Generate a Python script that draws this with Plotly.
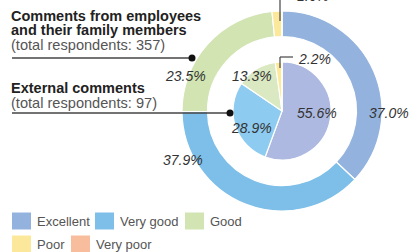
import plotly.graph_objects as go

categories = ["Excellent", "Very good", "Good", "Poor", "Very poor"]
employee_values = [37.0, 37.9, 23.5, 1.6, 0.0]   # outer ring (357 respondents)
external_values = [55.6, 28.9, 13.3, 2.2, 0.0]   # inner pie (97 respondents)
outer_colors = ["#93b3de", "#7dbfe9", "#d1e4b1", "#fce89a", "#f8bd9c"]
inner_colors = ["#adb9e0", "#8dcbf0", "#dbe9c3", "#fde99a", "#f8bd9c"]

W, H = 409, 252
def px(x): return x / W
def py(y): return 1 - y / H

fig = go.Figure()
fig.add_trace(go.Pie(
    labels=categories, values=employee_values, hole=0.745, sort=False,
    direction="clockwise", rotation=0, textinfo="none", hoverinfo="label+percent",
    marker=dict(colors=outer_colors, line=dict(color="white", width=1.2)),
    domain=dict(x=[px(182), px(382)], y=[py(211), py(11)]), showlegend=False))
fig.add_trace(go.Pie(
    labels=categories, values=external_values, sort=False,
    direction="clockwise", rotation=0, textinfo="none", hoverinfo="label+percent",
    marker=dict(colors=inner_colors, line=dict(color="white", width=1.2)),
    domain=dict(x=[px(233), px(331)], y=[py(160), py(62)]), showlegend=False))

lab_font = dict(family="Liberation Sans, Arial", size=14, color="#333")
ann = []
def lab(text, x, y):
    ann.append(dict(text="<i>" + text + "</i>", x=px(x), y=py(y), xref="paper", yref="paper",
                    showarrow=False, font=lab_font, xanchor="center", yanchor="middle"))

outer_pos = [(389, 113), (183, 160), (185, 76), (313, -4)]
inner_pos = [(317, 113), (251, 128), (252, 76), (314, 59)]
for v, p in zip(employee_values[:4], outer_pos):
    lab(f"{v:.1f}%", *p)
for v, p in zip(external_values[:4], inner_pos):
    lab(f"{v:.1f}%", *p)

title_font = dict(family="Liberation Sans, Arial", size=14.5, color="#222")
sub_font = dict(family="Liberation Sans, Arial", size=14.6, color="#555")
def txt(text, x, y, font):
    ann.append(dict(text=text, x=px(x), y=py(y), xref="paper", yref="paper", showarrow=False,
                    font=font, xanchor="left", yanchor="middle", borderpad=0))
txt("<b>Comments from employees</b>", 10, 16, title_font)
txt("<b>and their family members</b>", 10, 30, title_font)
txt("(total respondents: 357)", 10, 45, sub_font)
txt("<b>External comments</b>", 10, 88, title_font)
txt("(total respondents: 97)", 10, 103, sub_font)

shapes = []
line_c = "#444"
def seg(x0, y0, x1, y1, w=1.5):
    shapes.append(dict(type="line", xref="paper", yref="paper", x0=px(x0), y0=py(y0),
                       x1=px(x1), y1=py(y1), line=dict(color=line_c, width=w)))
def dot(x, y, r=3.5):
    shapes.append(dict(type="circle", xref="paper", yref="paper", x0=px(x - r), y0=py(y + r),
                       x1=px(x + r), y1=py(y - r), fillcolor="#111", line=dict(width=0)))
seg(12, 58, 192, 58); dot(192, 58)
seg(12, 113, 230, 113); dot(230, 113)
seg(280, 68, 280, 57, 1.2); seg(280, 57, 293, 57, 1.2)
seg(280, 0, 280, 21, 1.2)

leg_font = dict(family="Liberation Sans, Arial", size=13, color="#555")
leg_pos = [(12, 221), (95, 221), (185, 221), (12, 244), (71, 244)]
for name, col, (x, y) in zip(categories, outer_colors, leg_pos):
    shapes.append(dict(type="rect", xref="paper", yref="paper", x0=px(x), x1=px(x + 19),
                       y0=py(y + 8.5), y1=py(y - 8.5), fillcolor=col, line=dict(width=0)))
    ann.append(dict(text=name, x=px(x + 23), y=py(y), xref="paper", yref="paper",
                    showarrow=False, font=leg_font, xanchor="left", yanchor="middle"))

fig.update_layout(width=W, height=H, margin=dict(l=0, r=0, t=0, b=0),
                  paper_bgcolor="white", plot_bgcolor="white",
                  annotations=ann, shapes=shapes)
fig.write_html("out.html", config={"displayModeBar": False},
               post_script="document.body.style.margin='0px';document.body.style.overflow='hidden';")
